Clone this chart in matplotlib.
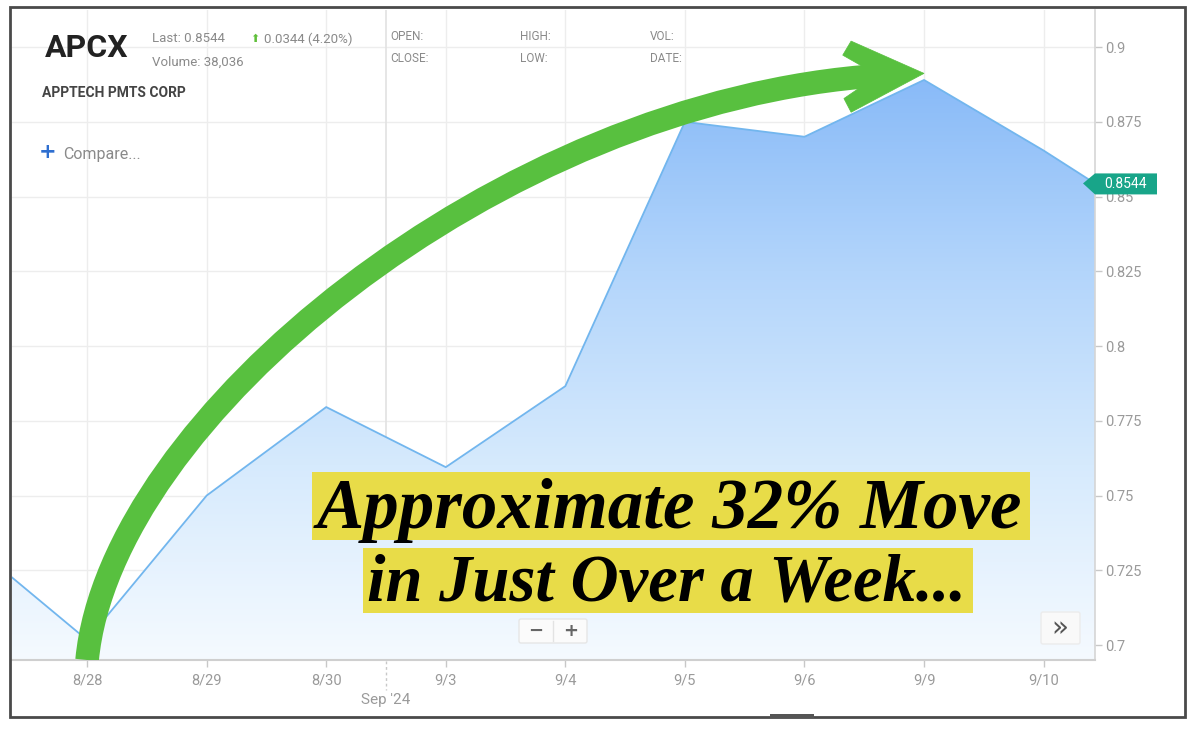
import numpy as np
import matplotlib.pyplot as plt
from matplotlib.patches import Polygon, Rectangle, PathPatch, FancyBboxPatch
from matplotlib.path import Path
from matplotlib.colors import LinearSegmentedColormap

# daily closes (first point is off the left edge, last is the live price)
day_pos = [-1, 0, 1, 2, 3, 4, 5, 6, 7, 8, 8.43]
prices = [0.735, 0.7017, 0.750, 0.7796, 0.7595, 0.7866, 0.875, 0.870, 0.889, 0.8654, 0.8544]

tick_pos = [0, 1, 2, 3, 4, 5, 6, 7, 8]
tick_labels = ['8/28', '8/29', '8/30', '9/3', '9/4', '9/5', '9/6', '9/9', '9/10']
month_break = 2.5
month_label = "Sep '24"

y_ticks = [0.7, 0.725, 0.75, 0.775, 0.8, 0.825, 0.85, 0.875, 0.9]
y_tick_labels = ['0.7', '0.725', '0.75', '0.775', '0.8', '0.825', '0.85', '0.875', '0.9']

ticker = 'APCX'
company = 'APPTECH PMTS CORP'
last_txt = 'Last: 0.8544'
volume_txt = 'Volume: 38,036'
change_txt = '0.0344 (4.20%)'
badge_txt = '0.8544'
headline = ['Approximate 32% Move', 'in Just Over a Week...']

W, H = 1200, 731
fig = plt.figure(figsize=(12, 7.31), dpi=100)
fig.patch.set_facecolor('white')

ax = fig.add_axes([12 / W, 1 - 660 / H, (1095 - 12) / W, 650 / H])
x_lo, x_hi = -0.628, day_pos[-1]
y_lo, y_hi = 0.695, 0.9124
ax.set_xlim(x_lo, x_hi)
ax.set_ylim(y_lo, y_hi)

# grid
for t in tick_pos:
    ax.axvline(t, color='#ededed', lw=1, zorder=0)
for t in y_ticks:
    ax.axhline(t, color='#ededed', lw=1, zorder=0)
ax.axvline(month_break, color='#e2e2e2', lw=1.2, zorder=0)

# gradient area under the line
verts = [(day_pos[0], y_lo)] + list(zip(day_pos, prices)) + [(day_pos[-1], y_lo)]
area = Polygon(verts, closed=True, facecolor='none', edgecolor='none')
ax.add_patch(area)
cmap = LinearSegmentedColormap.from_list('fill', ['#f5faff', '#d6eafd', '#b3d5fb', '#88baf8'])
grad = np.linspace(0, 1, 256).reshape(-1, 1)
im = ax.imshow(grad, cmap=cmap, origin='lower', aspect='auto',
               extent=[x_lo, x_hi, y_lo, 0.89], zorder=1)
im.set_clip_path(area)
ax.plot(day_pos, prices, color='#72b6ee', lw=1.3, zorder=2)

# axes styling
for s in ['top', 'left']:
    ax.spines[s].set_visible(False)
ax.spines['bottom'].set_color('#cfcfcf')
ax.spines['bottom'].set_linewidth(1.5)
ax.spines['right'].set_color('#d5d5d5')
ax.spines['right'].set_linewidth(1.2)
ax.yaxis.tick_right()
ax.set_yticks(y_ticks)
ax.set_yticklabels(y_tick_labels)
ax.set_xticks(tick_pos)
ax.set_xticklabels(tick_labels)
ax.tick_params(axis='both', colors='#c8c8c8', labelcolor='#9a9a9a', labelsize=10.5, length=5, width=1)
ax.tick_params(axis='x', pad=5)
ax.tick_params(axis='y', pad=2)
for lab in ax.get_xticklabels() + ax.get_yticklabels():
    lab.set_fontfamily('Roboto')

# green arrow sweeping from the low to the peak
peak_i = int(np.argmax(prices))
px, py = day_pos[peak_i], prices[peak_i]
shaft = Path([(0, y_lo), (0.19, 0.7752), (3.43, 0.8822), (px - 0.36, py + 0.0015)],
             [Path.MOVETO, Path.CURVE4, Path.CURVE4, Path.CURVE4])
ax.add_patch(PathPatch(shaft, facecolor='none', edgecolor='#58c03f', lw=17,
                       capstyle='butt', zorder=4))
head = [(px, py + 0.0022), (px - 0.61, py + 0.0130), (px - 0.68, py + 0.0083),
        (px - 0.50, py + 0.0042), (px - 0.56, py - 0.0032), (px - 0.67, py - 0.0062),
        (px - 0.61, py - 0.0108)]
ax.add_patch(Polygon(head, closed=True, facecolor='#58c03f', edgecolor='#58c03f',
                     lw=0.5, joinstyle='miter', zorder=5))

# overlay in pixel coordinates for the widget furniture
ov = fig.add_axes([0, 0, 1, 1], facecolor='none')
ov.set_xlim(0, W)
ov.set_ylim(H, 0)
ov.set_axis_off()

ov.add_patch(Rectangle((10, 7), 1175, 710, fill=False, edgecolor='#4a4a4a', lw=2))
ov.add_patch(Rectangle((770, 714), 44, 4, facecolor='#555555', edgecolor='none'))

ov.text(45, 48, ticker, fontsize=23, fontweight='bold', family='Roboto', color='#222222', va='center')
ov.text(152, 39, last_txt, fontsize=9.5, family='Roboto', color='#8a8a8a', va='center')
ov.text(152, 62, volume_txt, fontsize=9.5, family='Roboto', color='#8a8a8a', va='center')
ov.text(250, 39, '\u2b06', fontsize=8, family='DejaVu Sans', color='#5fbf3a', va='center')
ov.text(264, 39, change_txt, fontsize=9.5, family='Roboto', color='#8a8a8a', va='center')
for x0, a, b in [(390, 'OPEN:', 'CLOSE:'), (520, 'HIGH:', 'LOW:'), (650, 'VOL:', 'DATE:')]:
    ov.text(x0, 36, a, fontsize=8.5, family='Roboto', color='#8a8a8a', va='center')
    ov.text(x0, 59, b, fontsize=8.5, family='Roboto', color='#8a8a8a', va='center')
ov.text(42, 93, company, fontsize=10, fontweight='bold', family='Roboto', color='#444444', va='center')
ov.text(39, 152, '+', fontsize=15, fontweight='bold', family='DejaVu Sans', color='#2f6fd0', va='center')
ov.text(63, 154, 'Compare...', fontsize=11.5, family='Roboto', color='#8a8a8a', va='center')

# month marker under the axis
mx = ax.transData.transform((month_break, y_lo))[0]
ov.plot([mx, mx], [661, 690], color='#c8c8c8', lw=1, ls=(0, (2, 2)))
ov.text(mx, 700, month_label, fontsize=11, family='Roboto', color='#9a9a9a', ha='center', va='center')

# zoom buttons
ov.add_patch(FancyBboxPatch((519, 619), 68, 24, boxstyle='round,pad=0,rounding_size=2',
                            facecolor='#fbfbfb', edgecolor='#e6e6e6', lw=1))
ov.plot([553, 553], [621, 641], color='#e3e3e3', lw=1)
ov.text(536, 631, '\u2212', fontsize=13, fontweight='bold', family='DejaVu Sans', color='#666666', ha='center', va='center')
ov.text(571, 631, '+', fontsize=13, fontweight='bold', family='DejaVu Sans', color='#666666', ha='center', va='center')
ov.add_patch(FancyBboxPatch((1041, 612), 39, 32, boxstyle='round,pad=0,rounding_size=2',
                            facecolor='#f9f9f9', edgecolor='#ececec', lw=1))
ov.text(1060, 628, '\u00bb', fontsize=20, family='DejaVu Sans', color='#555555', ha='center', va='center')

# price badge on the right axis
bx, by = ax.transData.transform((day_pos[-1], prices[-1]))
by = H - by
badge = [(bx - 12, by), (bx, by - 10), (bx + 62, by - 10), (bx + 62, by + 11), (bx, by + 11)]
ov.add_patch(Polygon(badge, closed=True, facecolor='#18a589', edgecolor='none', zorder=5))
ov.text(bx + 31, by + 0.5, badge_txt, fontsize=10, family='Roboto', color='white',
        ha='center', va='center', zorder=6)

# headline in yellow highlight
hl_font = dict(family='Liberation Serif', fontweight='bold', fontstyle='italic', color='black')
lines = [(669, 528, 472, 540, 51), (666, 601, 548, 613, 48)]
fig.canvas.draw()
inv = ov.transData.inverted()
for txt, (cx, base, top, bot, size) in zip(headline, lines):
    t = ov.text(cx, base, txt, ha='center', va='baseline', zorder=7, fontsize=size, **hl_font)
    ext = t.get_window_extent(renderer=fig.canvas.get_renderer())
    x0 = inv.transform((ext.x0, 0))[0]
    x1 = inv.transform((ext.x1, 0))[0]
    ov.add_patch(Rectangle((x0 - 4, top), (x1 - x0) + 12, bot - top,
                           facecolor='#e8dc48', edgecolor='none', zorder=6))

fig.savefig('out.png', dpi=100)
